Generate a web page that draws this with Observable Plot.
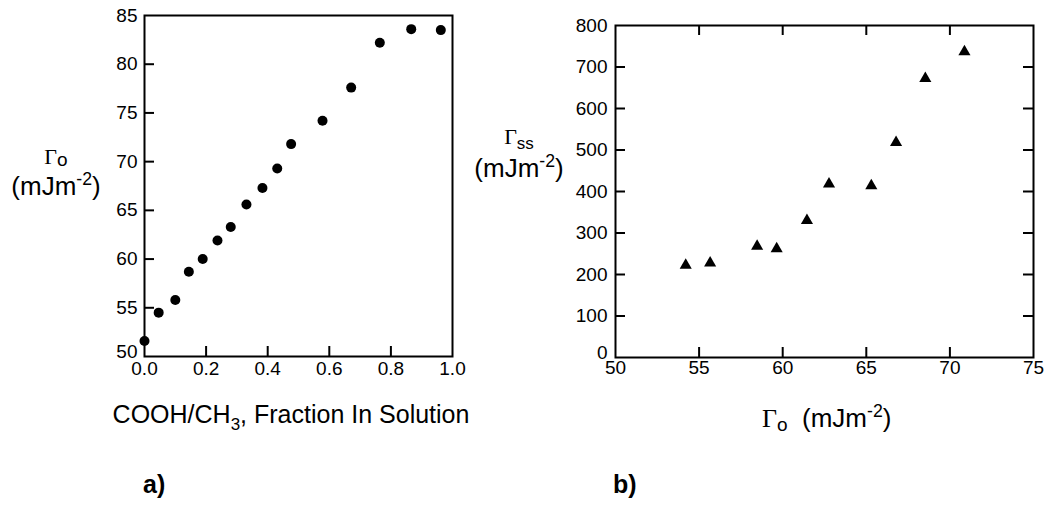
<!DOCTYPE html>
<html><head><meta charset="utf-8">
<script src="https://cdn.jsdelivr.net/npm/d3@7"></script>
<script src="https://cdn.jsdelivr.net/npm/@observablehq/plot@0.6"></script>
<style>
body{margin:0;background:#fff;}
#wrap{position:relative;width:1045px;height:525px;overflow:hidden;font-family:"Liberation Sans",Arial,sans-serif;color:#000;background:#fff;}
.panel{position:absolute;top:0;}
.lab{position:absolute;white-space:nowrap;line-height:1;}
.g{font-family:"Liberation Serif","Times New Roman",serif;}
.sup{font-size:0.68em;position:relative;top:-0.55em;}
.sub{position:relative;}
</style></head><body>
<div id="wrap">
  <div id="pa" class="panel" style="left:0"></div>
  <div id="pb" class="panel" style="left:520px"></div>

  <div class="lab" style="left:56px;top:146px;font-size:22px;transform:translateX(-50%);"><span class="g">Γ</span><span class="sub" style="font-size:19px;top:2px;">o</span></div>
  <div class="lab" style="left:56px;top:173px;font-size:26px;transform:translateX(-50%);">(mJm<span class="sup">-2</span>)</div>

  <div class="lab" style="left:519px;top:126px;font-size:22px;transform:translateX(-50%);"><span class="g">Γ</span><span class="sub" style="font-size:17px;top:5px;">ss</span></div>
  <div class="lab" style="left:519px;top:155px;font-size:26px;transform:translateX(-50%);">(mJm<span class="sup">-2</span>)</div>

  <div class="lab" style="left:291px;top:402px;font-size:25px;transform:translateX(-50%);">COOH/CH<span class="sub" style="font-size:17px;top:7px;">3</span>, Fraction In Solution</div>

  <div class="lab" style="left:762px;top:405px;font-size:26px;"><span class="g">Γ</span><span class="sub" style="font-size:19px;top:4px;">o</span>&nbsp;&nbsp;(mJm<span class="sup">-2</span>)</div>

  <div class="lab" style="left:143px;top:472px;font-size:25px;font-weight:bold;">a)</div>
  <div class="lab" style="left:613px;top:472px;font-size:25px;font-weight:bold;">b)</div>
</div>
<script>
// Panel a) : COOH/CH3 fraction in solution vs Γo
const fractionA = [0.0, 0.046, 0.10, 0.144, 0.189, 0.237, 0.280, 0.331, 0.383, 0.431, 0.476, 0.578, 0.671, 0.764, 0.866, 0.962];
const gammaOA   = [51.6, 54.5, 55.8, 58.7, 60.0, 61.9, 63.3, 65.6, 67.3, 69.3, 71.8, 74.2, 77.6, 82.2, 83.6, 83.5];
const xTicksA = [0, 0.2, 0.4, 0.6, 0.8, 1.0];
const yTicksA = [50, 55, 60, 65, 70, 75, 80, 85];

// Panel b) : Γo vs Γss
const gammaOB  = [54.2, 55.66, 58.47, 59.64, 61.45, 62.77, 65.3, 66.78, 68.53, 70.87];
const gammaSSB = [222, 228, 268, 262, 330, 418, 414, 518, 672, 737];
const xTicksB = [50, 55, 60, 65, 70, 75];
const yTicksB = [0, 100, 200, 300, 400, 500, 600, 700, 800];

const dataA = fractionA.map((x, i) => ({x, y: gammaOA[i]}));
const dataB = gammaOB.map((x, i) => ({x, y: gammaSSB[i]}));

const style = {fontFamily: "'Liberation Sans', Arial, sans-serif", fontSize: "19px", color: "#000", background: "transparent", overflow: "visible"};
const tf = {fontSize: 19, fill: "#000"};

const plotA = Plot.plot({
  width: 520, height: 400,
  marginLeft: 144, marginRight: 68, marginTop: 15, marginBottom: 44,
  style,
  x: {domain: [0, 1]},
  y: {domain: [50, 85]},
  marks: [
    Plot.tickX(xTicksA.slice(1, -1), {x: d => d, insetTop: 331, strokeWidth: 2, stroke: "#000"}),
    Plot.tickY(yTicksA.slice(1, -1), {y: d => d, insetRight: 298, strokeWidth: 2, stroke: "#000"}),
    Plot.axisX(xTicksA, {...tf, tickSize: 0, tickPadding: 5, tickFormat: d3.format(".1f"), label: null}),
    Plot.axisY(yTicksA.slice(1), {...tf, tickSize: 0, tickPadding: 7, label: null}),
    Plot.axisY(yTicksA.slice(0, 1), {...tf, tickSize: 0, tickPadding: 7, dy: -5, label: null}),
    Plot.frame({stroke: "#000", strokeWidth: 2}),
    Plot.dot(dataA, {x: "x", y: "y", r: 5, fill: "#000", stroke: "none"})
  ]
});
document.getElementById("pa").append(plotA);

const plotB = Plot.plot({
  width: 525, height: 400,
  marginLeft: 95, marginRight: 12, marginTop: 25, marginBottom: 43,
  style,
  x: {domain: [50, 75]},
  y: {domain: [0, 800]},
  marks: [
    Plot.tickX(xTicksB.slice(1, -1), {x: d => d, insetTop: 322, strokeWidth: 2, stroke: "#000"}),
    Plot.tickX(xTicksB.slice(1, -1), {x: d => d, insetBottom: 322, strokeWidth: 2, stroke: "#000"}),
    Plot.tickY(yTicksB.slice(1, -1), {y: d => d, insetRight: 408, strokeWidth: 2, stroke: "#000"}),
    Plot.tickY(yTicksB.slice(1, -1), {y: d => d, insetLeft: 408, strokeWidth: 2, stroke: "#000"}),
    Plot.axisX(xTicksB, {...tf, tickSize: 0, tickPadding: 3, label: null}),
    Plot.axisY(yTicksB.slice(1), {...tf, tickSize: 0, tickPadding: 8, label: null}),
    Plot.axisY(yTicksB.slice(0, 1), {...tf, tickSize: 0, tickPadding: 8, dy: -5, label: null}),
    Plot.frame({stroke: "#000", strokeWidth: 2}),
    Plot.dot(dataB, {x: "x", y: "y", r: 4.5, symbol: "triangle", fill: "#000", stroke: "none"})
  ]
});
document.getElementById("pb").append(plotB);
</script>
</body></html>
